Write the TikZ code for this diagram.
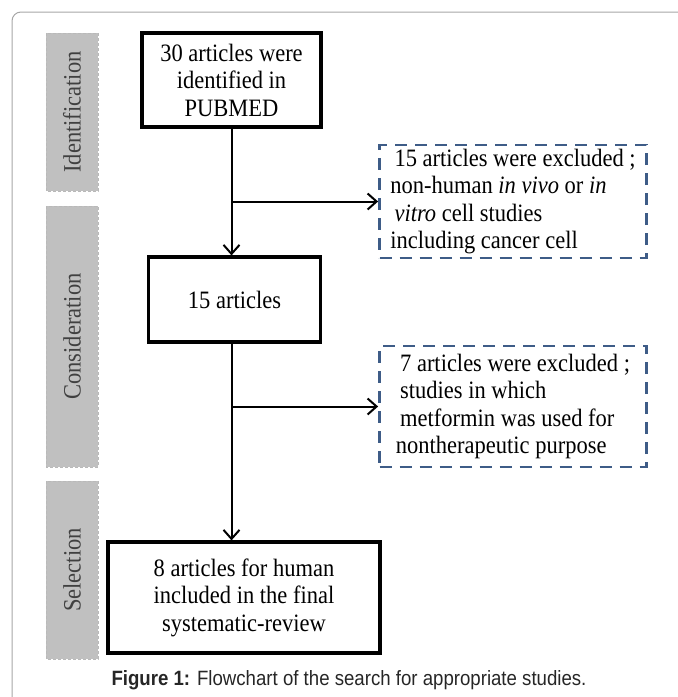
\documentclass[tikz,border=0pt]{standalone}
\usepackage{fontspec}
\setmainfont[FakeStretch=0.9]{Liberation Serif}
\newfontfamily\capfont[FakeStretch=0.9]{Liberation Sans}
\usetikzlibrary{arrows.meta}
\definecolor{exclblue}{RGB}{62,92,135}
\definecolor{phasegray}{RGB}{192,192,192}

\begin{document}
\begin{tikzpicture}[x=1pt,y=-1pt,
  every node/.style={font=\fontsize{25}{27.5}\selectfont},
  stage/.style={draw, line width=3.2pt, align=center, inner sep=0pt},
  excl/.style={draw=exclblue, line width=2.8pt, dash pattern=on 12pt off 8pt,
    align=left, inner sep=0pt, minimum width=267pt},
  phase/.style={fill=phasegray, draw=gray!55, densely dashed, line width=0.8pt,
    text=black!75, rotate=90, minimum height=52pt, inner sep=0pt},
  flow/.style={line width=2pt, -{Straight Barb[length=9pt,width=16pt,line width=2pt]}}]
  \useasboundingbox (0,0) rectangle (678,697);
  \clip (0,0) rectangle (678,697);

  % frame
  \draw[gray!70, line width=1pt, rounded corners=9pt] (12,720) |- (700,12);

  % phases
  \foreach \name/\mid/\len/\txt in {ident/112/158/Identification,
      consid/336.5/261/Consideration, select/570/178/Selection}
    \node[phase, minimum width=\len pt] (\name) at (72,\mid) {\txt};

  % stages
  \node[stage, minimum width=179pt, minimum height=94pt] (found) at (231.5,80)
      {30 articles were\\identified in\\PUBMED};
  \node[stage, minimum width=172pt, minimum height=85pt] (kept) at (234.5,299.5)
      {15 articles};
  \node[stage, minimum width=272pt, minimum height=111pt] (final) at (244,597.5)
      {8 articles for human\\included in the final\\systematic-review};

  % exclusions
  \node[excl, minimum height=113pt] (excl1) at (513,201.5)
      {\,15 articles were excluded ;\\non-human \textit{in vivo} or \textit{in}\\
       \,\textit{vitro} cell studies\\including cancer cell};
  \node[excl, minimum height=121pt] (excl2) at (513,406.5)
      {\,7 articles were excluded ;\\\,studies in which\\
       \,metformin was used for\\nontherapeutic purpose};

  \draw[flow] (found.south) -- (found.south |- kept.north);
  \draw[flow] (found.south |- kept.south) -- (found.south |- final.north);
  \draw[flow] (found.south |- excl1.west) -- (excl1.west);
  \draw[flow] (found.south |- excl2.west) -- (excl2.west);

  \node[font=\capfont\fontsize{20.7}{24}\selectfont, text=black!85] (caption)
      at (349,680) {\textbf{Figure 1:} Flowchart of the search for appropriate studies.};
\end{tikzpicture}
\end{document}
